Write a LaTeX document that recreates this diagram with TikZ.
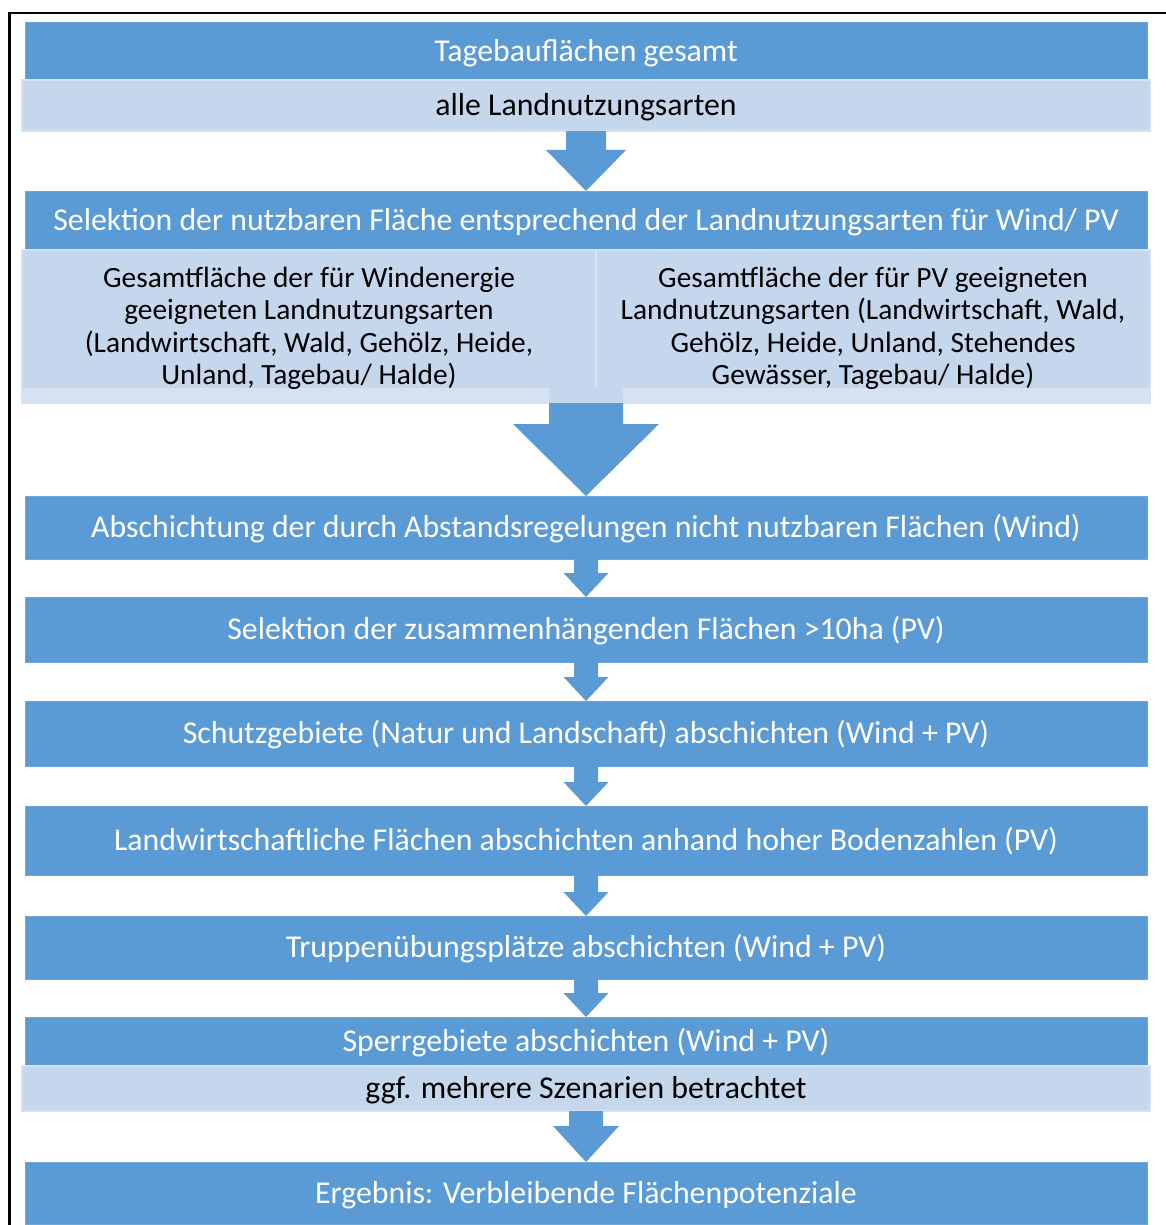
\documentclass[tikz,border=0pt]{standalone}
\usepackage{fontspec}
\setmainfont{Carlito}
\usetikzlibrary{calc}
\definecolor{dblue}{HTML}{5B9BD5}
\definecolor{dedge}{HTML}{6EA7DA}
\definecolor{lblue}{HTML}{C5D7EC}
\definecolor{ledge}{HTML}{D6E2F1}
\newcommand\blockarrow[5]{\fill[dblue] ($(#1)+(-#3,0)$) -- ($(#1)+(#3,0)$) -- ($(#2)+(#3,-#5)$) -- ($(#2)+(#4,-#5)$) -- (#2) -- ($(#2)+(-#4,-#5)$) -- ($(#2)+(-#3,-#5)$) -- cycle;}
\begin{document}
\begin{tikzpicture}[x=1pt,y=-1pt,
  lowtext/.style={text height=28.6pt, text depth=8pt},
  box/.style={fill=dblue, draw=dedge, line width=0.8pt, text=white, minimum width=1122pt, inner sep=0pt, outer sep=0pt, font=\fontsize{31.8}{38}\selectfont, lowtext},
  lbox/.style={fill=lblue, draw=ledge, line width=1.5pt, text=black, inner sep=0pt, outer sep=0pt, font=\fontsize{31.8}{38}\selectfont, lowtext},
  colbox/.style={fill=lblue, draw=ledge, line width=1.5pt, inner sep=0pt, outer sep=0pt, minimum height=153pt},
  coltext/.style={text=black, inner sep=0pt, align=center, font=\fontsize{29.4}{32.4}\selectfont}]
\useasboundingbox (0,0) rectangle (1165,1225);
% frame
\draw[line width=2.4pt, line join=miter] (9.3,1226) -- (9.3,13.2) -- (1166,13.2);
% boxes
\node[box, minimum height=58pt] (n1) at (586,51) {Tagebauflächen gesamt};
\node[lbox, minimum width=1128pt, minimum height=51pt] (n1b) at (586,105.5) {alle Landnutzungsarten};
\node[box, minimum height=59pt] (n2) at (586,220.5) {Selektion der nutzbaren Fläche entsprechend der Landnutzungsarten für Wind/ PV};
\node[colbox, minimum width=574pt] (n2l) at (309,326.5) {};
\node[colbox, minimum width=554pt] (n2r) at (873,326.5) {};
\coordinate (c2) at ($(n2l.south west)!0.5!(n2r.south east)$);
\fill[ledge] ($(n2l.south west)+(0.8,-15)$) rectangle ($(n2r.south east)+(-0.8,0)$);
\fill[lblue] ($(c2)+(-37,-15)$) rectangle ($(c2)+(37,0)$);
\node[coltext] (t2l) at ($(n2l.center)+(0,2)$) {Gesamtfläche der für Windenergie\\ geeigneten Landnutzungsarten\\ (Landwirtschaft, Wald, Gehölz, Heide,\\ Unland, Tagebau/ Halde)};
\node[coltext] (t2r) at ($(n2r.center)+(0,2)$) {Gesamtfläche der für PV geeigneten\\ Landnutzungsarten (Landwirtschaft, Wald,\\ Gehölz, Heide, Unland, Stehendes\\ Gewässer, Tagebau/ Halde)};
\node[box, minimum height=63pt] (n3) at (586,527.5) {Abschichtung der durch Abstandsregelungen nicht nutzbaren Flächen (Wind)};
\node[box, minimum height=65pt] (n4) at (586,629.5) {Selektion der zusammenhängenden Flächen >10ha (PV)};
\node[box, minimum height=65pt] (n5) at (586,733.5) {Schutzgebiete (Natur und Landschaft) abschichten (Wind + PV)};
\node[box, minimum height=69pt] (n6) at (586,840.5) {Landwirtschaftliche Flächen abschichten anhand hoher Bodenzahlen (PV)};
\node[box, minimum height=63pt] (n7) at (586,947.5) {Truppenübungsplätze abschichten (Wind + PV)};
\node[box, minimum height=49pt] (n8) at (586,1041.5) {Sperrgebiete abschichten (Wind + PV)};
\node[lbox, minimum width=1128pt, minimum height=45pt] (n8b) at (586,1088.5) {ggf. mehrere Szenarien betrachtet};
\node[box, minimum height=62pt] (n9) at (586,1193) {Ergebnis: Verbleibende Flächenpotenziale};
% arrows
\blockarrow{n1b.south}{n2.north}{20}{40}{41}
\blockarrow{c2}{n3.north}{37}{73}{72}
\blockarrow{n3.south}{n4.north}{12}{22.5}{24}
\blockarrow{n4.south}{n5.north}{12}{22.5}{24}
\blockarrow{n5.south}{n6.north}{12}{22.5}{24}
\blockarrow{n6.south}{n7.north}{12}{22.5}{24}
\blockarrow{n7.south}{n8.north}{12}{22.5}{24}
\blockarrow{n8b.south}{n9.north}{17}{33}{36}
\end{tikzpicture}
\end{document}
